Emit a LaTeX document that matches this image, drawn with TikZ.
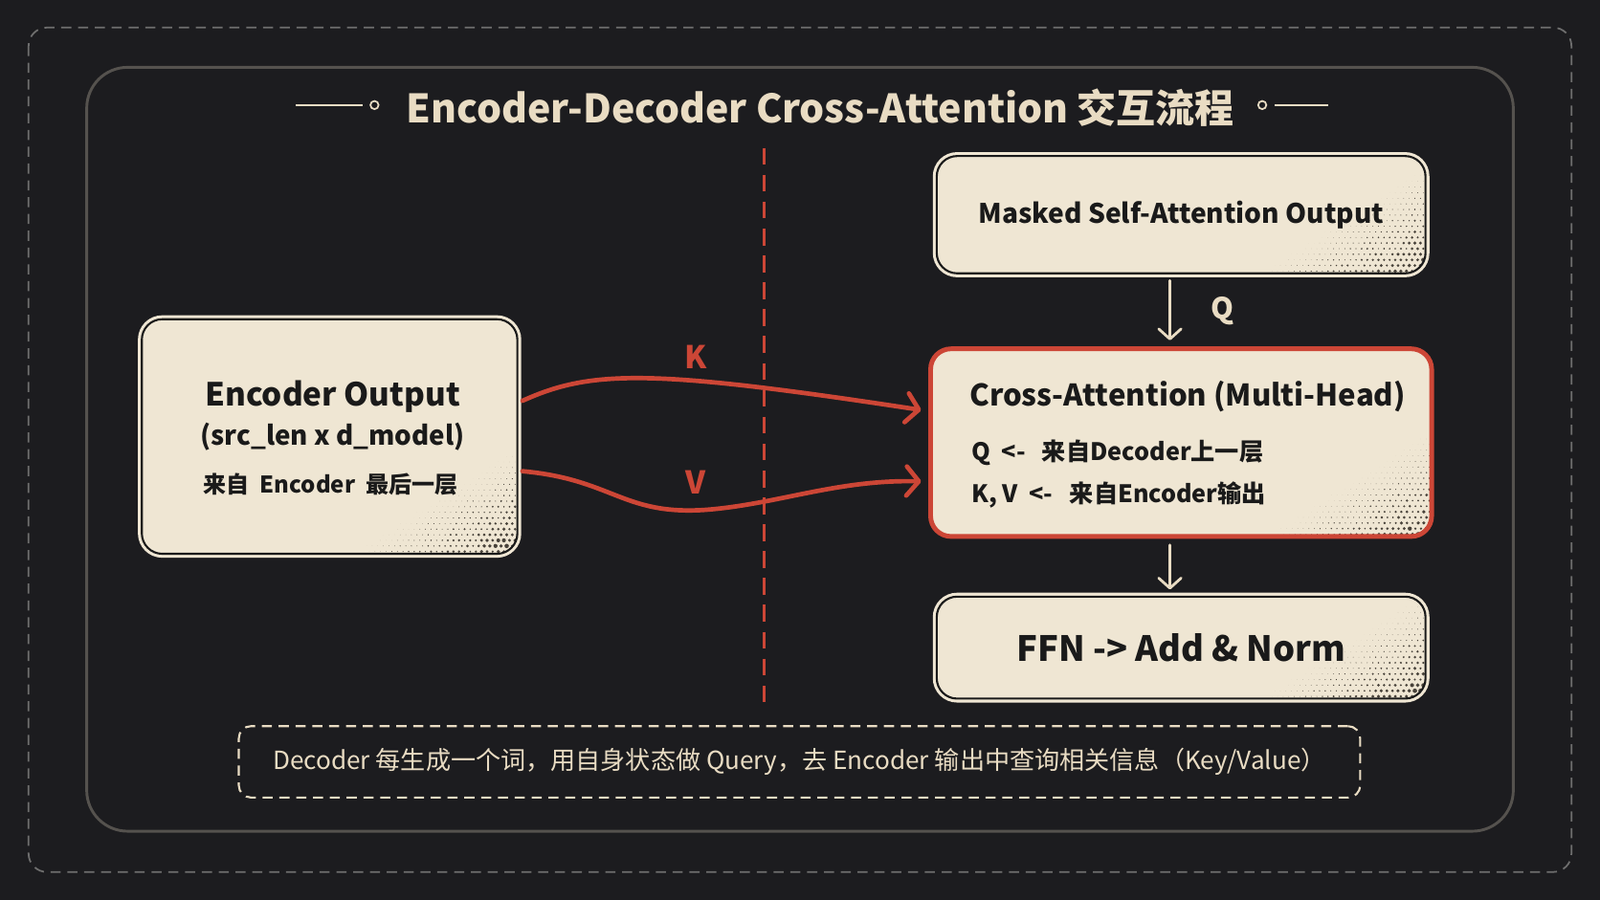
\documentclass[tikz,border=0pt]{standalone}
\usepackage{fontspec}
\setmainfont{Noto Sans CJK SC}
\usetikzlibrary{arrows.meta,calc}
\definecolor{bg}{HTML}{1C1C1F}
\definecolor{cream}{HTML}{EFE6D3}
\definecolor{creamtxt}{HTML}{E9DCC3}
\definecolor{accent}{HTML}{CC4636}
\definecolor{frameg}{HTML}{55524E}
\definecolor{outerg}{HTML}{6E6E6E}
\definecolor{ink}{HTML}{1A1A1A}
\definecolor{dotc}{HTML}{2B2620}
\def\ux{0.032cm}
\newcommand\halftone{%
  \foreach \i in {0,...,27}{\foreach \j in {0,...,17}{%
    \pgfmathsetmacro\hc{1-\i/28-\j/18}%
    \ifdim\hc pt>0pt
      \pgfmathsetmacro\hr{2.1*\hc*(0.55+0.5*rnd)}%
      \pgfmathsetmacro\hx{\i*5+2.5*mod(\j,2)+2}%
      \fill[dotc,opacity=0.85] ([xshift=-\hx pt,yshift=\j*5pt+2pt]path picture bounding box.south east) circle[radius=\hr pt];
    \fi}}}
\tikzset{
  card/.style={rectangle, rounded corners=20*\ux, fill=cream, draw=ink, line width=1.8pt,
    preaction={draw=cream, line width=7pt}, inner sep=0pt, text=ink,
    path picture={\halftone}},
  redcard/.style={rectangle, rounded corners=20*\ux, fill=cream, draw=accent, line width=4.2pt,
    inner sep=0pt, text=ink, path picture={\halftone}},
  txt/.style={inner sep=0pt, text=ink},
  redflow/.style={draw=accent, line width=4pt, line cap=round,
    -{Straight Barb[length=11pt,width=26pt,line cap=round,line join=round]}},
  creamflow/.style={draw=creamtxt, line width=2.4pt, line cap=round,
    -{Straight Barb[length=9pt,width=20pt,line cap=round,line join=round]}},
  lbl/.style={font=\bfseries\fontsize{28}{32}\selectfont, inner sep=0pt},
}
\begin{document}
\begin{tikzpicture}[x=0.032cm,y=-0.032cm]
\fill[bg] (0,0) rectangle (1568,882);
\useasboundingbox (0,0) rectangle (1568,882);
% frames
\draw[outerg, line width=1.5pt, dash pattern=on 9pt off 6pt, rounded corners=18*\ux] (28,27) rectangle (1540,855);
\draw[frameg, line width=2.5pt, rounded corners=40*\ux] (85,66) rectangle (1483,815);
% title
\node[text=creamtxt, font=\bfseries\fontsize{35}{40}\selectfont, inner sep=0pt] (title) at (804,106) {Encoder-Decoder Cross-Attention 交互流程};
\coordinate (tl1) at (290,103); \coordinate (tl2) at (1302,103);
\draw[creamtxt, line width=1.5pt] (tl1) -- (355,103);
\draw[creamtxt, line width=1.5pt] (367,103) circle[radius=4];
\draw[creamtxt, line width=1.5pt] (1237,103) circle[radius=4];
\draw[creamtxt, line width=1.5pt] (1249,103) -- (tl2);
% divider
\coordinate (dv1) at (749,145); \coordinate (dv2) at (749,690);
\draw[accent, line width=2.4pt, dash pattern=on 15pt off 9pt] (dv1) -- (dv2);
% boxes
\node[card, minimum width=368*\ux, minimum height=230*\ux] (enc) at (323,428) {};
\node[txt, font=\bfseries\fontsize{28.4}{32}\selectfont] (enc1) at (326,389) {Encoder Output};
\node[txt, font=\bfseries\fontsize{23.7}{28}\selectfont] (enc2) at (326,428) {(src\_len x d\_model)};
\node[txt, font=\bfseries\fontsize{20.5}{24}\selectfont] (enc3) at (324,475) {来自\ \ Encoder\ \ 最后一层};
\node[card, minimum width=479*\ux, minimum height=115*\ux, font=\bfseries\fontsize{24}{28}\selectfont] (msa) at (1157.5,210.5) {Masked Self-Attention Output};
\node[redcard, minimum width=491*\ux, minimum height=184*\ux] (cross) at (1157.5,434) {};
\node[txt, anchor=west, font=\bfseries\fontsize{26.6}{30}\selectfont] (cr1) at (950,389) {Cross-Attention (Multi-Head)};
\node[txt, anchor=west, font=\bfseries\fontsize{21.5}{25}\selectfont] (cr2) at (952,444) {Q\ \ <-\ \ \ 来自Decoder上一层};
\node[txt, anchor=west, font=\bfseries\fontsize{21.5}{25}\selectfont] (cr3) at (952,485) {K, V\ \ <-\ \ \ 来自Encoder输出};
\node[card, minimum width=479*\ux, minimum height=100*\ux, font=\bfseries\fontsize{31}{34}\selectfont] (ffn) at (1157.5,635) {FFN -> Add \& Norm};
\node[rectangle, rounded corners=12*\ux, draw=creamtxt, line width=1.8pt, dash pattern=on 9pt off 6pt,
  minimum width=1099*\ux, minimum height=70*\ux, text=creamtxt, font=\fontsize{22.3}{26}\selectfont] (note) at (783.5,747)
  {Decoder 每生成一个词，用自身状态做 Query，去 Encoder 输出中查询相关信息（Key/Value）};
% connectors
\draw[redflow] ($(enc.east)+(4,-35)$) .. controls (580,362) and (640,362) .. ($(cross.west)+(-7,-32)$);
\draw[redflow] ($(enc.east)+(4,34)$) .. controls (600,470) and (610,505) .. (690,500)
  .. controls (760,495) and (820,470) .. ($(cross.west)+(-7,38)$);
\node[lbl, text=accent] (klbl) at (682,350) {K};
\node[lbl, text=accent] (vlbl) at (682,473) {V};
\draw[creamflow] ($(msa.south)+(-11,6)$) -- ($(cross.north)+(-11,-6)$);
\node[lbl, text=creamtxt, font=\bfseries\fontsize{26}{30}\selectfont] (qlbl) at (1198,305) {Q};
\draw[creamflow] ($(cross.south)+(-11,6)$) -- ($(ffn.north)+(-11,-6)$);
\end{tikzpicture}
\end{document}
